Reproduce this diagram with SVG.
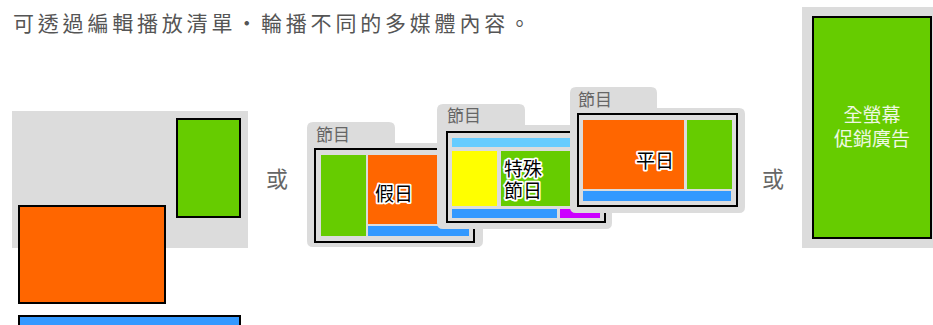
<svg xmlns="http://www.w3.org/2000/svg" width="933" height="325" viewBox="0 0 933 325">
<style>
.bg{fill:#dcdcdc}
.blk{stroke:#000;stroke-width:2}
.frame{fill:#dcdcdc;stroke:#000;stroke-width:2}
.g{fill:#66cc00}.o{fill:#ff6600}.b{fill:#3399ff}.lb{fill:#66ccff}.y{fill:#ffff00}.p{fill:#cc00ff}
.t{font-family:"Noto Sans CJK TC","Noto Sans CJK SC",sans-serif}
.title{font-size:21px;fill:#555;letter-spacing:3.8px}
.or{font-size:22px;fill:#666}
.tab{font-size:17px;fill:#666}
.lbl{font-size:19px;fill:#000;stroke:#fff;stroke-width:3.5px;paint-order:stroke;stroke-linejoin:round}
.full{font-size:19px;fill:#eef8e2;text-anchor:middle}
</style>
<text class="t title" x="13" y="31">可透過編輯播放清單‧輪播不同的多媒體內容。</text>

<g id="layout">
<rect class="bg" x="12" y="111" width="236" height="137"/>
<rect class="g blk" x="177" y="119" width="63" height="98"/>
<rect class="o blk" x="19" y="206" width="146" height="97"/>
<rect class="b blk" x="19" y="316" width="221" height="20"/>
</g>

<text class="t or" x="266" y="186.5">或</text>

<g id="card-holiday">
<path class="bg" d="M307,128 Q307,122 313,122 L389,122 Q395,122 395,128 L395,143 L477,143 Q483,143 483,149 L483,241 Q483,247 477,247 L313,247 Q307,247 307,241 Z"/>
<text class="t tab" x="316" y="141">節目</text>
<rect class="frame" x="315" y="149" width="159" height="93"/>
<rect class="g" x="321" y="155" width="45" height="81"/>
<rect class="o" x="368" y="155" width="101" height="69"/>
<rect class="b" x="368" y="226" width="101" height="10"/>
<text class="t lbl" x="375" y="201">假日</text>
</g>

<g id="card-special">
<path class="bg" d="M437,110 Q437,104 443,104 L519,104 Q525,104 525,110 L525,125 L606,125 Q612,125 612,131 L612,223 Q612,229 606,229 L443,229 Q437,229 437,223 Z"/>
<text class="t tab" x="447" y="122">節目</text>
<rect class="frame" x="447" y="132" width="158" height="90"/>
<rect class="lb" x="452" y="138" width="148" height="9"/>
<rect class="y" x="452" y="151" width="45" height="55"/>
<rect class="g" x="501" y="151" width="99" height="55"/>
<rect class="b" x="452" y="209" width="105" height="9"/>
<rect class="p" x="560" y="209" width="40" height="9"/>
<text class="t lbl" x="504" y="175.5">特殊<tspan x="504" dy="22">節日</tspan></text>
</g>

<g id="card-weekday">
<path class="bg" d="M570,93 Q570,87 576,87 L651,87 Q657,87 657,93 L657,108 L739,108 Q745,108 745,114 L745,207 Q745,213 739,213 L576,213 Q570,213 570,207 Z"/>
<text class="t tab" x="578" y="106">節目</text>
<rect class="frame" x="578" y="114" width="159" height="92"/>
<rect class="o" x="583" y="120" width="101" height="69"/>
<rect class="g" x="687" y="120" width="45" height="69"/>
<rect class="b" x="583" y="191" width="148" height="10"/>
<text class="t lbl" x="636" y="168">平日</text>
</g>

<text class="t or" x="762" y="186.5">或</text>

<g id="fullscreen">
<rect class="bg" x="802" y="7" width="131" height="241"/>
<rect class="g blk" x="813" y="17" width="118" height="221"/>
<text class="t full" x="872" y="121.5">全螢幕<tspan x="872" dy="24">促銷廣告</tspan></text>
</g>
</svg>
